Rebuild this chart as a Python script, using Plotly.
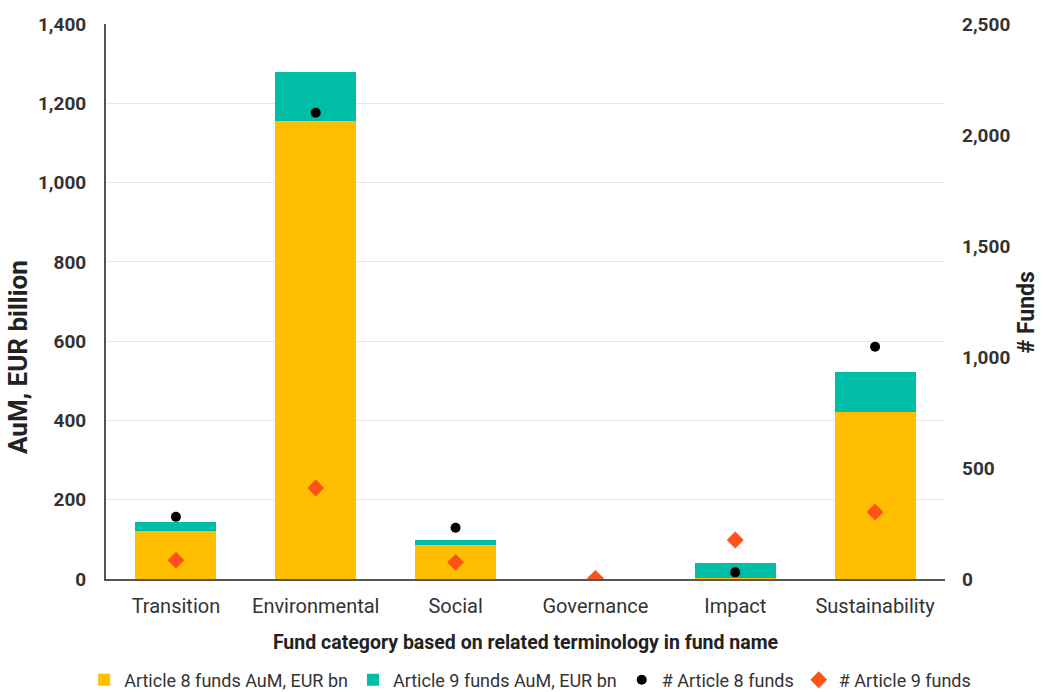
import plotly.graph_objects as go

categories = ["Transition", "Environmental", "Social", "Governance", "Impact", "Sustainability"]
art8_aum = [120, 1155, 87, 0, 3, 422]
art9_aum = [23, 125, 11, 0, 38, 100]
art8_count = [280, 2100, 231, 0, 30, 1046]
art9_count = [85, 410, 75, 3, 176, 302]

left_ticks = [0, 200, 400, 600, 800, 1000, 1200, 1400]
right_ticks = [0, 500, 1000, 1500, 2000, 2500]

YELLOW = "#FFBE00"
TEAL = "#00BDA8"
BLACK = "#000000"
ORANGE = "#FF5219"
FONT = "Roboto"

fig = go.Figure()
fig.add_trace(go.Bar(x=categories, y=art8_aum, name="Article 8 funds AuM, EUR bn",
                     marker=dict(color=YELLOW, line=dict(width=0)), width=0.58))
fig.add_trace(go.Bar(x=categories, y=art9_aum, name="Article 9 funds AuM, EUR bn",
                     marker=dict(color=TEAL, line=dict(width=0)), width=0.58))
fig.add_trace(go.Scatter(x=categories, y=art8_count, name="# Article 8 funds", mode="markers",
                         marker=dict(color=BLACK, size=10, symbol="circle"), yaxis="y2"))
fig.add_trace(go.Scatter(x=categories, y=art9_count, name="# Article 9 funds", mode="markers",
                         marker=dict(color=ORANGE, size=13, symbol="diamond"), yaxis="y2"))

fig.update_layout(
    barmode="stack",
    width=1043, height=692,
    margin=dict(l=106, r=98, t=24, b=113, autoexpand=False),
    plot_bgcolor="white", paper_bgcolor="white",
    font=dict(family=FONT, color="#222222"),
    xaxis=dict(
        title=dict(text="<b>Fund category based on related terminology in fund name</b>",
                   font=dict(size=19.5, color="#222222"), standoff=18),
        tickfont=dict(size=20, color="#333333"),
        showline=True, linecolor="#555555", linewidth=2,
        showgrid=False, ticks="", range=[-0.5, 5.5], ticklabelstandoff=8,
    ),
    yaxis=dict(
        range=[0, 1400], tickvals=left_ticks,
        ticktext=[f"<b>{v:,}</b>" for v in left_ticks],
        tickfont=dict(size=19, color="#333333"),
        showline=True, linecolor="#555555", linewidth=2,
        showgrid=True, gridcolor="#E6E6E6", gridwidth=1, zeroline=False, ticks="",
        ticklabelstandoff=14,
    ),
    yaxis2=dict(
        overlaying="y", side="right",
        range=[0, 2500], tickvals=right_ticks,
        ticktext=[f"<b>{v:,}</b>" for v in right_ticks],
        tickfont=dict(size=19, color="#333333"),
        showgrid=False, zeroline=False, showline=False, ticks="",
        ticklabelstandoff=16,
    ),
    legend=dict(orientation="h", x=-0.026, xanchor="left", xref="paper",
                y=-0.182, yanchor="middle", yref="paper", traceorder="normal",
                font=dict(size=18, color="#333333"), itemwidth=30),
    bargap=0.42,
    annotations=[
        dict(text="<b>AuM, EUR billion</b>", textangle=-90, xref="paper", yref="paper",
             x=-0.1049, y=0.40, xanchor="center", yanchor="middle", showarrow=False,
             font=dict(size=26, color="#222222")),
        dict(text="<b># Funds</b>", textangle=-90, xref="paper", yref="paper",
             x=1.0975, y=0.48, xanchor="center", yanchor="middle", showarrow=False,
             font=dict(size=23, color="#222222")),
    ],
)

fig.write_html("out.html")
